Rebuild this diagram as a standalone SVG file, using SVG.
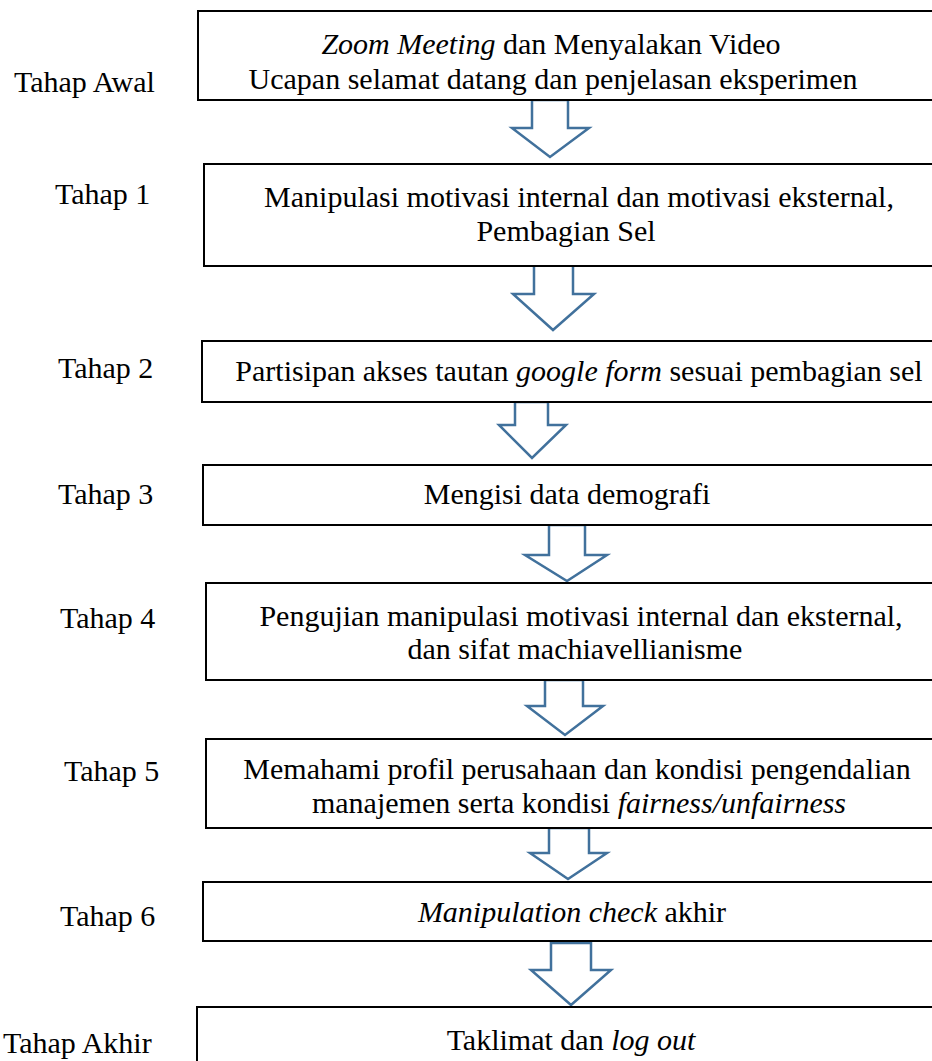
<svg xmlns="http://www.w3.org/2000/svg" width="932" height="1061" viewBox="0 0 932 1061">
<style>
.box{fill:#fff;stroke:#000;stroke-width:2}
.arr{fill:#fff;stroke:#41719C;stroke-width:2.5;stroke-linejoin:miter}
.c{text-anchor:middle}
.i{font-style:italic}
</style>
<rect width="932" height="1061" fill="#fff"/>
<g id="connectors">
<polygon class="arr" points="532,100 568,100 568,128 589,128 550,157 512,128 532,128"/>
<polygon class="arr" points="534,260 573,260 573,294 594,294 553,330 513,294 534,294"/>
<polygon class="arr" points="515,402 548,402 548,425 566,425 532,458 499,425 515,425"/>
<polygon class="arr" points="549,525 585,525 585,555 607,555 567,581 525,555 549,555"/>
<polygon class="arr" points="545,680 583,680 583,706 603,706 565,735 527,706 545,706"/>
<polygon class="arr" points="549,828 589,828 589,853 607,853 568,879 530,853 549,853"/>
<polygon class="arr" points="551,943 591,943 591,970 611,970 571,1005 531,970 551,970"/>
</g>
<g font-family="Liberation Serif, Times New Roman, serif" font-size="30" fill="#000">
<g id="awal">
<rect class="box" x="198" y="11" width="750" height="89"/>
<text class="c" x="551" y="54"><tspan class="i">Zoom Meeting</tspan> dan Menyalakan Video</text>
<text class="c" x="553" y="89">Ucapan selamat datang dan penjelasan eksperimen</text>
<text x="14" y="92">Tahap Awal</text>
</g>
<g id="tahap1">
<rect class="box" x="204" y="164" width="740" height="102"/>
<text class="c" x="579" y="207">Manipulasi motivasi internal dan motivasi eksternal,</text>
<text class="c" x="566" y="241">Pembagian Sel</text>
<text x="55" y="204">Tahap 1</text>
</g>
<g id="tahap2">
<rect class="box" x="202" y="341" width="740" height="61"/>
<text class="c" x="579" y="381">Partisipan akses tautan <tspan class="i">google form</tspan> sesuai pembagian sel</text>
<text x="58" y="378">Tahap 2</text>
</g>
<g id="tahap3">
<rect class="box" x="203" y="465" width="740" height="60"/>
<text class="c" x="567" y="504">Mengisi data demografi</text>
<text x="58" y="504">Tahap 3</text>
</g>
<g id="tahap4">
<rect class="box" x="206" y="583" width="740" height="97"/>
<text class="c" x="581" y="626">Pengujian manipulasi motivasi internal dan eksternal,</text>
<text class="c" x="575" y="659">dan sifat machiavellianisme</text>
<text x="60" y="628">Tahap 4</text>
</g>
<g id="tahap5">
<rect class="box" x="206" y="739" width="740" height="89"/>
<text class="c" x="577" y="779">Memahami profil perusahaan dan kondisi pengendalian</text>
<text class="c" x="579" y="813">manajemen serta kondisi <tspan class="i">fairness/unfairness</tspan></text>
<text x="64" y="781">Tahap 5</text>
</g>
<g id="tahap6">
<rect class="box" x="203" y="882" width="740" height="59"/>
<text class="c" x="572" y="922"><tspan class="i">Manipulation check</tspan> akhir</text>
<text x="60" y="926">Tahap 6</text>
</g>
<g id="akhir">
<rect class="box" x="197" y="1007" width="750" height="80"/>
<text class="c" x="571" y="1050">Taklimat dan <tspan class="i">log out</tspan></text>
<text x="3" y="1053">Tahap Akhir</text>
</g>
</g>
</svg>
